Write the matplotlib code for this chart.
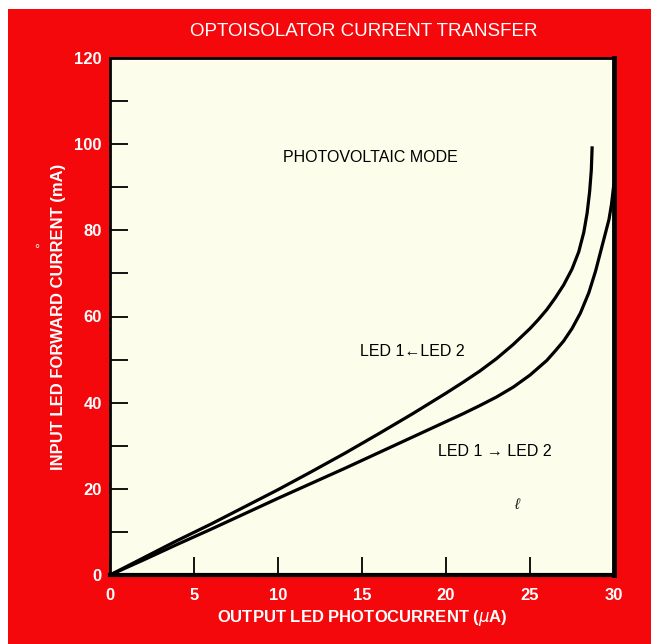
# optoisolator current transfer curve

import numpy as np
import matplotlib
matplotlib.use("Agg")
import matplotlib.pyplot as plt
from matplotlib.patches import Rectangle

# fuente
plt.rcParams['font.family'] = ['Liberation Sans', 'DejaVu Sans']

# datos de las curvas (corriente de salida en uA, corriente LED en mA)
led2_a_led1_x = [0, 2, 4, 6, 8, 10, 12, 14, 16, 18, 20, 21, 22, 23, 24, 25, 25.5, 26,
                 26.5, 27, 27.5, 27.9, 28.2, 28.4, 28.55, 28.65, 28.7]
led2_a_led1_y = [0, 4, 8, 11.8, 15.8, 19.8, 24, 28.3, 32.8, 37.4, 42.2, 44.7, 47.3, 50.2,
                 53.5, 57.2, 59.3, 61.6, 64.3, 67.3, 71, 75, 79.5, 84, 89, 94, 99.5]

led1_a_led2_x = [0, 2, 4, 6, 8, 10, 12, 14, 16, 18, 20, 21, 22, 23, 24, 25, 26, 26.5,
                 27, 27.5, 28, 28.5, 28.9, 29.2, 29.5, 29.7, 29.85, 30]
led1_a_led2_y = [0, 3.5, 7.1, 10.6, 14.2, 17.8, 21.3, 24.8, 28.4, 32, 35.6, 37.4, 39.3,
                 41.3, 43.6, 46.4, 49.8, 52, 54.3, 57.2, 60.8, 65.5, 70.5, 75, 79.5, 82.5, 86, 91]

xticks = [0, 5, 10, 15, 20, 25, 30]
yticks = [0, 20, 40, 60, 80, 100, 120]

rojo = "#f4080c"
crema = "#fcfdea"

fig = plt.figure(figsize=(6.51, 6.44), dpi=100, facecolor="white")
# marco rojo
fondo = Rectangle((8 / 651, 0), 1, (644 - 9) / 644, transform=fig.transFigure,
                  facecolor=rojo, edgecolor="none", zorder=-10)
fig.patches.append(fondo)

ax = fig.add_axes([110 / 651, (644 - 575) / 644, (614 - 110) / 651, (575 - 58) / 644])
ax.set_zorder(5)
ax.set_facecolor(crema)

ax.plot(led2_a_led1_x, led2_a_led1_y, color="black", lw=2.3, solid_capstyle="butt")
ax.plot(led1_a_led2_x, led1_a_led2_y, color="black", lw=2.3, solid_capstyle="butt")

ax.set_xlim(0, 30)
ax.set_ylim(0, 120)
ax.set_xticks(xticks)
ax.set_yticks(yticks)
ax.set_yticks([10, 30, 50, 70, 90, 110], minor=True)
ax.tick_params(axis="both", which="both", direction="in", length=13, width=1.3,
               color="black", labelcolor="white", labelsize=12)
ax.tick_params(axis="x", pad=9)
ax.tick_params(axis="y", pad=6)
for lab in ax.get_xticklabels() + ax.get_yticklabels():
    lab.set_fontweight("bold")

ax.spines["left"].set_linewidth(2)
ax.spines["bottom"].set_linewidth(3)
ax.spines["right"].set_linewidth(3.5)
ax.spines["top"].set_linewidth(2)

# textos
fig.text(364 / 651, 1 - 32 / 644, "OPTOISOLATOR CURRENT TRANSFER", color="white",
         fontsize=13.5, ha="center", va="center")
ax.set_xlabel("OUTPUT LED PHOTOCURRENT ($\\mu$A)", color="white", fontsize=12,
              fontweight="bold", labelpad=4)
ax.set_ylabel("INPUT LED FORWARD CURRENT (mA)", color="white", fontsize=12,
              fontweight="bold", labelpad=6)
fig.text(37 / 651, 1 - 250 / 644, "\u00b0", color="white", fontsize=9,
         ha="center", va="center")

ax.text(15.5, 96.8, "PHOTOVOLTAIC MODE", fontsize=11.5, ha="center", va="center")
ax.text(18.0, 51.8, "LED 1\u2190LED 2", fontsize=11.5, ha="center", va="center")
ax.text(22.9, 28.6, "LED 1 \u2192 LED 2", fontsize=11.5, ha="center", va="center")
ax.text(24.2, 16.2, "\u2113", fontsize=11, ha="center", va="center", color="#222222",
        style="italic")

plt.savefig("out.png", dpi=100, facecolor=fig.get_facecolor())
